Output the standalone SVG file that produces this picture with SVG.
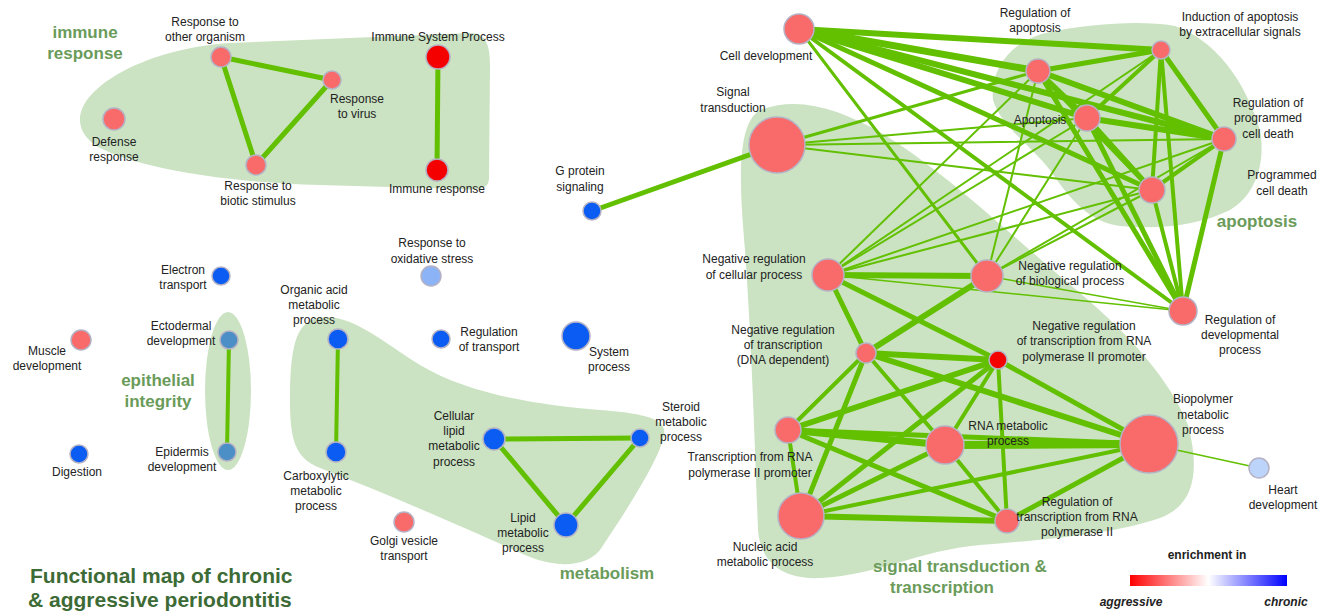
<svg xmlns="http://www.w3.org/2000/svg" width="1327" height="611" viewBox="0 0 1327 611">
<defs>
<linearGradient id="leg" x1="0" y1="0" x2="1" y2="0">
<stop offset="0" stop-color="#ff0000"/>
<stop offset="0.5" stop-color="#ffffff"/>
<stop offset="1" stop-color="#0000ff"/>
</linearGradient>
<style>
.blob{fill:#cbe3c2;stroke:none}
.e{stroke:#62c000;stroke-linecap:round;fill:none}
.n{stroke:#b4b2c4;stroke-width:1.5}
.s{fill:#f96a6a}
.r{fill:#f50000}
.b{fill:#0a5cf2}
.lb{fill:#8cb3f5}
.hb{fill:#bcd4fa}
.sb{fill:#4c8ec6}
text{font-family:"Liberation Sans",Arial,sans-serif}
.t{font-size:12px;fill:#222;text-anchor:middle}
.c{font-size:17px;font-weight:bold;fill:#6a9b5a;text-anchor:middle}
.ti{font-size:21px;font-weight:bold;fill:#3d6b36}
</style>
</defs>
<rect width="1327" height="611" fill="#ffffff"/>

<g id="clusters">
<path class="blob" d="M80,120 C80,85 150,48 230,43 L470,33 C486,33 490,45 490,65 L489,178 C489,190 478,190 460,189 L320,185 C220,182 140,168 100,148 C86,140 80,130 80,120 Z"/>
<ellipse class="blob" cx="228" cy="391" rx="23" ry="79"/>
<path class="blob" d="M318,318 C350,312 380,340 420,365 C470,395 540,405 600,410 C640,413 668,418 664,435 C660,460 620,520 600,550 C585,568 555,568 525,555 C470,530 390,495 320,468 C295,458 290,440 290,400 C290,350 295,322 318,318 Z"/>
<path class="blob" d="M760,110 C800,95 840,110 880,132 C950,175 1010,235 1080,293 C1130,335 1170,380 1188,425 C1200,470 1195,505 1160,518 C1110,535 1040,540 980,545 C920,550 880,575 820,578 C780,580 760,560 758,530 C755,450 752,350 745,250 C740,190 735,125 760,110 Z"/>
<path class="blob" d="M993,100 C990,70 1010,40 1050,32 C1090,24 1140,20 1175,26 C1215,40 1245,80 1260,130 C1266,165 1255,195 1230,210 C1200,225 1160,230 1120,226 C1090,222 1070,200 1050,170 C1030,145 1000,125 993,100 Z"/>
<text class="c" x="85" y="38">immune</text>
<text class="c" x="85" y="59">response</text>
<text class="c" x="158" y="386">epithelial</text>
<text class="c" x="158" y="407">integrity</text>
<text class="c" x="607" y="579">metabolism</text>
<text class="c" x="1257" y="227">apoptosis</text>
<text class="c" x="960" y="572">signal transduction &amp;</text>
<text class="c" x="942" y="593">transcription</text>
</g>

<g id="connectors">
<!-- immune -->
<line class="e" stroke-width="5" x1="221" y1="57" x2="332" y2="80"/>
<line class="e" stroke-width="5" x1="221" y1="57" x2="256" y2="165"/>
<line class="e" stroke-width="5" x1="332" y1="80" x2="256" y2="165"/>
<line class="e" stroke-width="5" x1="438" y1="57" x2="437" y2="170"/>
<!-- epithelial / metabolism -->
<line class="e" stroke-width="4" x1="229" y1="340" x2="227" y2="452"/>
<line class="e" stroke-width="4" x1="338" y1="339" x2="336" y2="452"/>
<line class="e" stroke-width="5" x1="494" y1="439" x2="640" y2="438"/>
<line class="e" stroke-width="5" x1="494" y1="439" x2="566" y2="525"/>
<line class="e" stroke-width="5" x1="640" y1="438" x2="566" y2="525"/>
<!-- G protein -->
<line class="e" stroke-width="5" x1="592" y1="211" x2="777" y2="145"/>
<!-- cell development -->
<line class="e" stroke-width="6" x1="799" y1="29" x2="1161" y2="50"/>
<line class="e" stroke-width="7" x1="799" y1="29" x2="1038" y2="71"/>
<line class="e" stroke-width="6" x1="799" y1="29" x2="1087" y2="118"/>
<line class="e" stroke-width="6" x1="799" y1="29" x2="1224" y2="139"/>
<line class="e" stroke-width="5" x1="799" y1="29" x2="1152" y2="190"/>
<line class="e" stroke-width="4" x1="799" y1="29" x2="1183" y2="311"/>
<line class="e" stroke-width="3" x1="799" y1="29" x2="987" y2="276"/>
<!-- apoptosis clique -->
<line class="e" stroke-width="5" x1="1038" y1="71" x2="1161" y2="50"/>
<line class="e" stroke-width="5" x1="1038" y1="71" x2="1087" y2="118"/>
<line class="e" stroke-width="6" x1="1038" y1="71" x2="1224" y2="139"/>
<line class="e" stroke-width="5" x1="1038" y1="71" x2="1152" y2="190"/>
<line class="e" stroke-width="5" x1="1038" y1="71" x2="1183" y2="311"/>
<line class="e" stroke-width="4" x1="1161" y1="50" x2="1087" y2="118"/>
<line class="e" stroke-width="5" x1="1161" y1="50" x2="1224" y2="139"/>
<line class="e" stroke-width="4" x1="1161" y1="50" x2="1152" y2="190"/>
<line class="e" stroke-width="4" x1="1161" y1="50" x2="1183" y2="311"/>
<line class="e" stroke-width="6" x1="1087" y1="118" x2="1224" y2="139"/>
<line class="e" stroke-width="5" x1="1087" y1="118" x2="1152" y2="190"/>
<line class="e" stroke-width="5" x1="1087" y1="118" x2="1183" y2="311"/>
<line class="e" stroke-width="4" x1="1224" y1="139" x2="1152" y2="190"/>
<line class="e" stroke-width="5" x1="1224" y1="139" x2="1183" y2="311"/>
<line class="e" stroke-width="4" x1="1152" y1="190" x2="1183" y2="311"/>
<!-- signal transduction -->
<line class="e" stroke-width="3" x1="777" y1="145" x2="1038" y2="71"/>
<line class="e" stroke-width="2" x1="777" y1="145" x2="1087" y2="118"/>
<line class="e" stroke-width="2" x1="777" y1="145" x2="1224" y2="139"/>
<line class="e" stroke-width="2" x1="777" y1="145" x2="1152" y2="190"/>
<!-- negative regulation cellular / biological -->
<line class="e" stroke-width="2" x1="828" y1="275" x2="1038" y2="71"/>
<line class="e" stroke-width="2" x1="828" y1="275" x2="1087" y2="118"/>
<line class="e" stroke-width="2" x1="828" y1="275" x2="1161" y2="50"/>
<line class="e" stroke-width="2" x1="828" y1="275" x2="1224" y2="139"/>
<line class="e" stroke-width="2" x1="828" y1="275" x2="1152" y2="190"/>
<line class="e" stroke-width="1.5" x1="828" y1="275" x2="1183" y2="311"/>
<line class="e" stroke-width="2" x1="987" y1="276" x2="1038" y2="71"/>
<line class="e" stroke-width="2" x1="987" y1="276" x2="1087" y2="118"/>
<line class="e" stroke-width="2" x1="987" y1="276" x2="1224" y2="139"/>
<line class="e" stroke-width="2" x1="987" y1="276" x2="1152" y2="190"/>
<line class="e" stroke-width="1.5" x1="987" y1="276" x2="1183" y2="311"/>
<!-- transcription cluster -->
<line class="e" stroke-width="6" x1="828" y1="275" x2="987" y2="276"/>
<line class="e" stroke-width="5" x1="828" y1="275" x2="866" y2="353"/>
<line class="e" stroke-width="5" x1="828" y1="275" x2="998" y2="360"/>
<line class="e" stroke-width="6" x1="987" y1="276" x2="866" y2="353"/>
<line class="e" stroke-width="6" x1="866" y1="353" x2="998" y2="360"/>
<line class="e" stroke-width="6" x1="866" y1="353" x2="1149" y2="444"/>
<line class="e" stroke-width="4" x1="866" y1="353" x2="945" y2="445"/>
<line class="e" stroke-width="4" x1="866" y1="353" x2="788" y2="430"/>
<line class="e" stroke-width="5" x1="866" y1="353" x2="801" y2="516"/>
<line class="e" stroke-width="6" x1="998" y1="360" x2="788" y2="430"/>
<line class="e" stroke-width="5" x1="998" y1="360" x2="801" y2="516"/>
<line class="e" stroke-width="4" x1="998" y1="360" x2="945" y2="445"/>
<line class="e" stroke-width="4" x1="998" y1="360" x2="1007" y2="521"/>
<line class="e" stroke-width="5" x1="998" y1="360" x2="1149" y2="444"/>
<line class="e" stroke-width="7" x1="788" y1="430" x2="945" y2="445"/>
<line class="e" stroke-width="5" x1="788" y1="430" x2="1149" y2="444"/>
<line class="e" stroke-width="4" x1="788" y1="430" x2="801" y2="516"/>
<line class="e" stroke-width="5" x1="788" y1="430" x2="1007" y2="521"/>
<line class="e" stroke-width="8" x1="945" y1="445" x2="1149" y2="444"/>
<line class="e" stroke-width="5" x1="945" y1="445" x2="801" y2="516"/>
<line class="e" stroke-width="4" x1="945" y1="445" x2="1007" y2="521"/>
<line class="e" stroke-width="4" x1="1149" y1="444" x2="801" y2="516"/>
<line class="e" stroke-width="5" x1="1149" y1="444" x2="1007" y2="521"/>
<line class="e" stroke-width="6" x1="801" y1="516" x2="1007" y2="521"/>
<line class="e" stroke-width="1.5" x1="1149" y1="444" x2="1259" y2="468"/>
</g>

<g id="n-other-organism"><circle class="n s" cx="221" cy="57" r="10"/><text class="t" x="205" y="26">Response to</text><text class="t" x="205" y="41">other organism</text></g>
<g id="n-virus"><circle class="n s" cx="332" cy="80" r="9"/><text class="t" x="357" y="103">Response</text><text class="t" x="357" y="118">to virus</text></g>
<g id="n-biotic"><circle class="n s" cx="256" cy="165" r="10"/><text class="t" x="258" y="190">Response to</text><text class="t" x="258" y="205">biotic stimulus</text></g>
<g id="n-defense"><circle class="n s" cx="114" cy="119" r="11"/><text class="t" x="114" y="146">Defense</text><text class="t" x="114" y="161">response</text></g>
<g id="n-immune-system"><circle class="n r" cx="438" cy="57" r="12"/><text class="t" x="438" y="41">Immune System Process</text></g>
<g id="n-immune-response"><circle class="n r" cx="437" cy="170" r="11"/><text class="t" x="437" y="193">Immune response</text></g>

<g id="n-electron"><circle class="n b" cx="221" cy="276" r="9"/><text class="t" x="183" y="274">Electron</text><text class="t" x="183" y="289">transport</text></g>
<g id="n-oxidative"><circle class="n lb" cx="431" cy="276" r="10"/><text class="t" x="432" y="247">Response to</text><text class="t" x="432" y="263">oxidative stress</text></g>
<g id="n-muscle"><circle class="n s" cx="81" cy="340" r="10"/><text class="t" x="47" y="355">Muscle</text><text class="t" x="47" y="370">development</text></g>
<g id="n-ectodermal"><circle class="n sb" cx="229" cy="340" r="9"/><text class="t" x="181" y="330">Ectodermal</text><text class="t" x="181" y="345">development</text></g>
<g id="n-epidermis"><circle class="n sb" cx="227" cy="452" r="9"/><text class="t" x="182" y="456">Epidermis</text><text class="t" x="182" y="471">development</text></g>
<g id="n-digestion"><circle class="n b" cx="79" cy="454" r="9"/><text class="t" x="77" y="476">Digestion</text></g>
<g id="n-organic-acid"><circle class="n b" cx="338" cy="339" r="10"/><text class="t" x="314" y="294">Organic acid</text><text class="t" x="314" y="309">metabolic</text><text class="t" x="314" y="324">process</text></g>
<g id="n-carboxylytic"><circle class="n b" cx="336" cy="452" r="10"/><text class="t" x="316" y="480">Carboxylytic</text><text class="t" x="316" y="495">metabolic</text><text class="t" x="316" y="510">process</text></g>
<g id="n-reg-transport"><circle class="n b" cx="441" cy="339" r="9"/><text class="t" x="489" y="336">Regulation</text><text class="t" x="489" y="351">of transport</text></g>
<g id="n-system"><circle class="n b" cx="576" cy="336" r="14"/><text class="t" x="609" y="356">System</text><text class="t" x="609" y="371">process</text></g>
<g id="n-cell-lipid"><circle class="n b" cx="494" cy="439" r="11"/><text class="t" x="454" y="420">Cellular</text><text class="t" x="454" y="435">lipid</text><text class="t" x="454" y="450">metabolic</text><text class="t" x="454" y="466">process</text></g>
<g id="n-steroid"><circle class="n b" cx="640" cy="438" r="9"/><text class="t" x="681" y="411">Steroid</text><text class="t" x="681" y="426">metabolic</text><text class="t" x="681" y="441">process</text></g>
<g id="n-lipid"><circle class="n b" cx="566" cy="525" r="12"/><text class="t" x="523" y="522">Lipid</text><text class="t" x="523" y="537">metabolic</text><text class="t" x="523" y="552">process</text></g>
<g id="n-golgi"><circle class="n s" cx="404" cy="522" r="10"/><text class="t" x="404" y="545">Golgi vesicle</text><text class="t" x="404" y="560">transport</text></g>
<g id="n-gprotein"><circle class="n b" cx="592" cy="211" r="9"/><text class="t" x="580" y="175">G protein</text><text class="t" x="580" y="191">signaling</text></g>

<g id="n-cell-dev"><circle class="n s" cx="799" cy="29" r="15"/><text class="t" x="766" y="60">Cell development</text></g>
<g id="n-signal"><circle class="n s" cx="777" cy="145" r="28"/><text class="t" x="733" y="96">Signal</text><text class="t" x="733" y="112">transduction</text></g>
<g id="n-reg-apoptosis"><circle class="n s" cx="1038" cy="71" r="12"/><text class="t" x="1035" y="17">Regulation of</text><text class="t" x="1035" y="32">apoptosis</text></g>
<g id="n-induction"><circle class="n s" cx="1161" cy="50" r="9"/><text class="t" x="1240" y="21">Induction of apoptosis</text><text class="t" x="1240" y="36">by extracellular signals</text></g>
<g id="n-apoptosis"><circle class="n s" cx="1087" cy="118" r="13"/><text class="t" x="1040" y="124">Apoptosis</text></g>
<g id="n-reg-pcd"><circle class="n s" cx="1224" cy="139" r="12"/><text class="t" x="1268" y="107">Regulation of</text><text class="t" x="1268" y="122">programmed</text><text class="t" x="1268" y="138">cell death</text></g>
<g id="n-pcd"><circle class="n s" cx="1152" cy="190" r="13"/><text class="t" x="1282" y="179">Programmed</text><text class="t" x="1282" y="195">cell death</text></g>
<g id="n-neg-cellular"><circle class="n s" cx="828" cy="275" r="16"/><text class="t" x="754" y="263">Negative regulation</text><text class="t" x="754" y="279">of cellular process</text></g>
<g id="n-neg-biological"><circle class="n s" cx="987" cy="276" r="16"/><text class="t" x="1070" y="270">Negative regulation</text><text class="t" x="1070" y="285">of biological process</text></g>
<g id="n-reg-dev"><circle class="n s" cx="1183" cy="311" r="14"/><text class="t" x="1240" y="324">Regulation of</text><text class="t" x="1240" y="339">developmental</text><text class="t" x="1240" y="354">process</text></g>
<g id="n-neg-tx-dna"><circle class="n s" cx="866" cy="353" r="10"/><text class="t" x="783" y="334">Negative regulation</text><text class="t" x="783" y="349">of transcription</text><text class="t" x="783" y="364">(DNA dependent)</text></g>
<g id="n-neg-tx-pol2"><circle class="n r" cx="998" cy="360" r="9"/><text class="t" x="1084" y="330">Negative regulation</text><text class="t" x="1084" y="345">of transcription from RNA</text><text class="t" x="1084" y="361">polymerase II promoter</text></g>
<g id="n-tx-pol2"><circle class="n s" cx="788" cy="430" r="13"/><text class="t" x="750" y="461">Transcription from RNA</text><text class="t" x="750" y="477">polymerase II promoter</text></g>
<g id="n-rna"><circle class="n s" cx="945" cy="445" r="19"/><text class="t" x="1008" y="430">RNA metabolic</text><text class="t" x="1008" y="445">process</text></g>
<g id="n-biopolymer"><circle class="n s" cx="1149" cy="444" r="29"/><text class="t" x="1203" y="403">Biopolymer</text><text class="t" x="1203" y="419">metabolic</text><text class="t" x="1203" y="434">process</text></g>
<g id="n-heart"><circle class="n hb" cx="1259" cy="468" r="10"/><text class="t" x="1283" y="494">Heart</text><text class="t" x="1283" y="509">development</text></g>
<g id="n-nucleic"><circle class="n s" cx="801" cy="516" r="23"/><text class="t" x="765" y="551">Nucleic acid</text><text class="t" x="765" y="566">metabolic process</text></g>
<g id="n-reg-tx"><circle class="n s" cx="1007" cy="521" r="12"/><text class="t" x="1077" y="506">Regulation of</text><text class="t" x="1077" y="521">transcription from RNA</text><text class="t" x="1077" y="536">polymerase II</text></g>

<g id="title">
<text class="ti" x="30" y="583">Functional map of chronic</text>
<text class="ti" x="28" y="607">&amp; aggressive periodontitis</text>
</g>

<g id="legend">
<text x="1207" y="559" style="font-size:12px;font-weight:bold;fill:#222;text-anchor:middle">enrichment in</text>
<rect x="1130" y="575" width="157" height="11" fill="url(#leg)"/>
<text x="1131" y="606" style="font-size:12px;font-weight:bold;font-style:italic;fill:#222;text-anchor:middle">aggressive</text>
<text x="1286" y="606" style="font-size:12px;font-weight:bold;font-style:italic;fill:#222;text-anchor:middle">chronic</text>
</g>
</svg>
